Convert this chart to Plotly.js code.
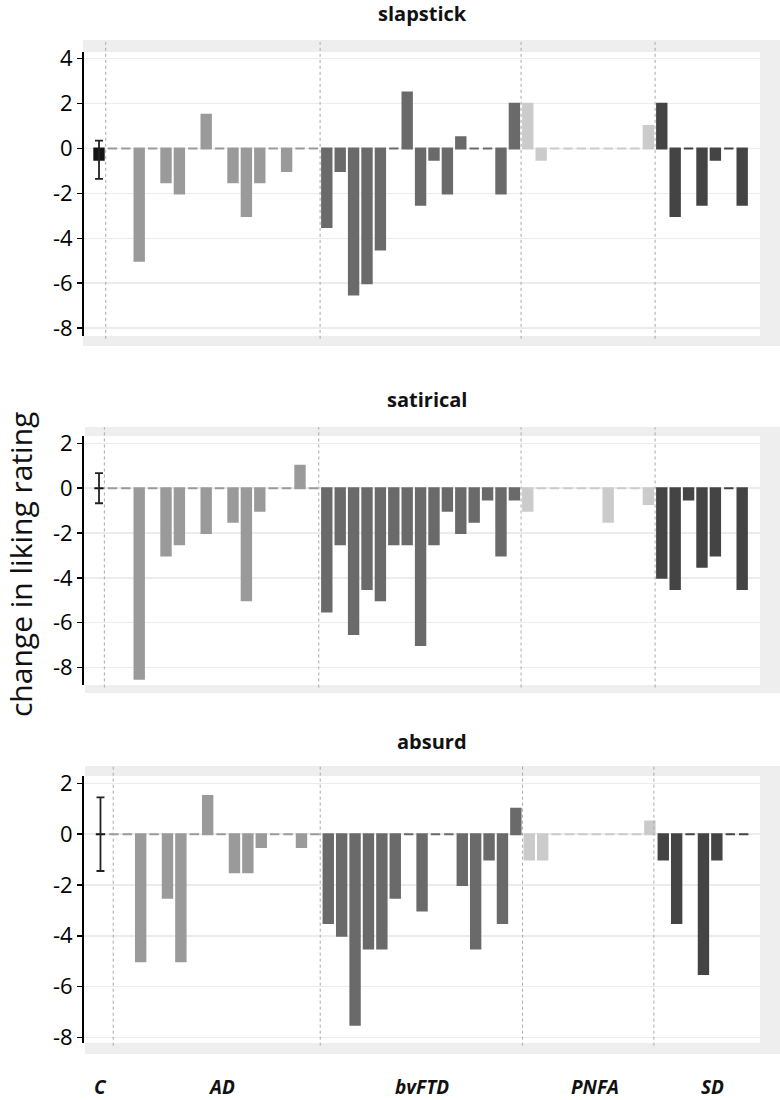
<!DOCTYPE html>
<html>
<head>
<meta charset="utf-8">
<script src="https://cdn.plot.ly/plotly-3.0.1.min.js"></script>
<style>html,body{margin:0;padding:0;background:#fff;}#chart{width:780px;height:1100px;}</style>
</head>
<body>
<div id="chart"></div>
<script>
// ---------- data ----------
const groups = ['C', 'AD', 'bvFTD', 'PNFA', 'SD'];
const panelTitles = ['slapstick', 'satirical', 'absurd'];

const slapstick_C = [-0.5];
const slapstick_C_err = [0.85];
const slapstick_AD = [0, 0, -5.0, 0, -1.5, -2.0, 0, 1.5, 0, -1.5, -3.0, -1.5, 0, -1.0, 0, 0];
const slapstick_bvFTD = [-3.5, -1.0, -6.5, -6.0, -4.5, 0, 2.5, -2.5, -0.5, -2.0, 0.5, 0, 0, -2.0, 2.0];
const slapstick_PNFA = [2.0, -0.5, 0, 0, 0, 0, 0, 0, 0, 1.0];
const slapstick_SD = [2.0, -3.0, 0, -2.5, -0.5, 0, -2.5];

const satirical_C = [0];
const satirical_C_err = [0.67];
const satirical_AD = [0, 0, -8.5, 0, -3.0, -2.5, 0, -2.0, 0, -1.5, -5.0, -1.0, 0, 0, 1.0, 0];
const satirical_bvFTD = [-5.5, -2.5, -6.5, -4.5, -5.0, -2.5, -2.5, -7.0, -2.5, -1.0, -2.0, -1.5, -0.5, -3.0, -0.5];
const satirical_PNFA = [-1.0, 0, 0, 0, 0, 0, -1.5, 0, 0, -0.7];
const satirical_SD = [-4.0, -4.5, -0.5, -3.5, -3.0, 0, -4.5];

const absurd_C = [0];
const absurd_C_err = [1.45];
const absurd_AD = [0, 0, -5.0, 0, -2.5, -5.0, 0, 1.5, 0, -1.5, -1.5, -0.5, 0, 0, -0.5, 0];
const absurd_bvFTD = [-3.5, -4.0, -7.5, -4.5, -4.5, -2.5, 0, -3.0, 0, 0, -2.0, -4.5, -1.0, -3.5, 1.0];
const absurd_PNFA = [-1.0, -1.0, 0, 0, 0, 0, 0, 0, 0, 0.5];
const absurd_SD = [-1.0, -3.5, 0, -5.5, -1.0, 0, 0];

const panels = [
  {C: slapstick_C, err: slapstick_C_err, AD: slapstick_AD, bvFTD: slapstick_bvFTD, PNFA: slapstick_PNFA, SD: slapstick_SD},
  {C: satirical_C, err: satirical_C_err, AD: satirical_AD, bvFTD: satirical_bvFTD, PNFA: satirical_PNFA, SD: satirical_SD},
  {C: absurd_C, err: absurd_C_err, AD: absurd_AD, bvFTD: absurd_bvFTD, PNFA: absurd_PNFA, SD: absurd_SD}
];

// ---------- style ----------
const colors = {C: '#141414', AD: '#9a9a9a', bvFTD: '#6a6a6a', PNFA: '#cbcbcb', SD: '#444444'};
const W = 780, H = 1100;
const px = v => v / W;
const py = v => 1 - v / H;

// pixel geometry of each panel: white plot area, gray frame, y range, title
const geo = [
  {top: 52, bottom: 336, frameTop: 40, frameBottom: 346, frameLeft: 83, yr: [-8.35, 4.3], tv: [-8,-6,-4,-2,0,2,4], xr: [-1.12, 49.33], div0: 0.5, div: [16.5, 31.5, 41.5], tx: 422, ty: 13},
  {top: 436, bottom: 685, frameTop: 427, frameBottom: 693, frameLeft: 85, yr: [-8.78, 2.33], tv: [-8,-6,-4,-2,0,2], xr: [-1.12, 49.33], div0: 0.4, div: [16.4, 31.5, 41.5], tx: 427, ty: 399},
  {top: 776, bottom: 1043, frameTop: 766, frameBottom: 1054, frameLeft: 85, yr: [-8.22, 2.29], tv: [-8,-6,-4,-2,0,2], xr: [-1.23, 49.22], div0: 0.95, div: [16.4, 31.5, 41.3], tx: 432, ty: 741}
];

const traces = [];
const shapes = [];
const annotations = [];
const layout = {
  width: W, height: H,
  margin: {l: 0, r: 0, t: 0, b: 0},
  paper_bgcolor: '#ffffff',
  plot_bgcolor: 'rgba(0,0,0,0)',
  barmode: 'overlay',
  showlegend: false,
  font: {family: 'Open Sans, sans-serif', color: '#111'}
};

panels.forEach((p, i) => {
  const n = i + 1;
  const xa = 'x' + (n === 1 ? '' : n), ya = 'y' + (n === 1 ? '' : n);
  const g = geo[i];
  let pos = 0;
  groups.forEach(grp => {
    const vals = p[grp];
    const xs = vals.map((_, k) => pos + k);
    pos += vals.length;
    const tr = {
      type: 'bar', x: xs, y: vals, xaxis: xa, yaxis: ya,
      width: 0.7,
      marker: {color: colors[grp], line: {color: colors[grp], width: 2}},
      hoverinfo: 'y'
    };
    if (grp === 'C') {
      tr.error_y = {type: 'data', array: p.err, visible: true, color: '#222', thickness: 1.8, width: 4};
    }
    traces.push(tr);
  });

  const dom = [py(g.bottom), py(g.top)];
  layout['xaxis' + (n === 1 ? '' : n)] = {
    domain: [px(84), px(760)], range: g.xr, anchor: ya,
    showticklabels: false, showgrid: false, zeroline: false, ticks: '', fixedrange: true
  };
  layout['yaxis' + (n === 1 ? '' : n)] = {
    domain: dom, range: g.yr, anchor: xa,
    tickvals: g.tv, ticktext: g.tv.map(String),
    showline: true, linecolor: '#000', linewidth: 2,
    ticks: 'outside', ticklen: 5, tickwidth: 1.5, tickcolor: '#000',
    tickfont: {size: 22, family: 'Open Sans, sans-serif', color: '#000'},
    showgrid: true, gridcolor: '#ececec', gridwidth: 1.5, zeroline: false, fixedrange: true
  };

  // gray frame + white plotting area
  shapes.push({type: 'rect', xref: 'paper', yref: 'paper', layer: 'below',
    x0: px(g.frameLeft), x1: 1, y0: py(g.frameBottom), y1: py(g.frameTop),
    fillcolor: '#eeeeee', line: {width: 0}});
  shapes.push({type: 'rect', xref: 'paper', yref: 'paper', layer: 'below',
    x0: px(84), x1: px(760), y0: py(g.bottom), y1: py(g.top),
    fillcolor: '#ffffff', line: {width: 0}});

  // group dividers
  [g.div0].concat(g.div).forEach(d => {
    shapes.push({type: 'line', xref: xa, yref: ya + ' domain', x0: d, x1: d, y0: -0.01, y1: 1.035,
      line: {color: '#a8a8a8', width: 1, dash: 'dot'}});
  });

  annotations.push({text: '<b>' + panelTitles[i] + '</b>', xref: 'paper', yref: 'paper',
    x: px(g.tx), y: py(g.ty), xanchor: 'center', yanchor: 'middle', showarrow: false,
    font: {size: 20, family: 'Open Sans, sans-serif', color: '#111'}});
});

// group labels along the bottom
const labelX = [0, 9, 24, 36.9, 45.7];
groups.forEach((grp, k) => {
  annotations.push({text: '<b><i>' + grp + '</i></b>', xref: 'x3', yref: 'paper',
    x: labelX[k], y: py(1087), xanchor: 'center', yanchor: 'middle', showarrow: false,
    font: {size: 19, family: 'Open Sans, sans-serif', color: '#111'}});
});

// shared y-axis title
annotations.push({text: 'change in liking rating', xref: 'paper', yref: 'paper',
  x: px(20), y: py(565), textangle: -90, xanchor: 'center', yanchor: 'middle', showarrow: false,
  font: {size: 30, family: 'Open Sans, sans-serif', color: '#111'}});

layout.shapes = shapes;
layout.annotations = annotations;

Plotly.newPlot('chart', traces, layout, {displayModeBar: false, staticPlot: true});
</script>
</body>
</html>
